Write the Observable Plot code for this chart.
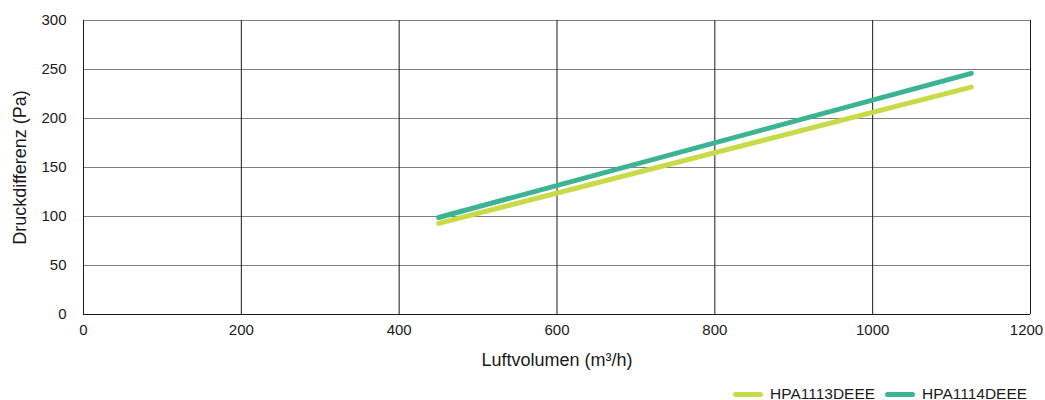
<!DOCTYPE html>
<html>
<head>
<meta charset="utf-8">
<script src="https://cdn.jsdelivr.net/npm/d3@7"></script>
<script src="https://cdn.jsdelivr.net/npm/@observablehq/plot@0.6"></script>
<style>
  body { margin: 0; background: #fff; font-family: "Liberation Sans", Arial, sans-serif; }
  #legend { position: relative; height: 25px; width: 1045px; font-size: 15.5px; color: #1a1a1a; }
  .item { position: absolute; top: 10px; display: flex; align-items: center; }
  .sw { display: inline-block; width: 30px; height: 5px; border-radius: 3px; margin-right: 7px; }
</style>
</head>
<body>
<div id="chart"></div>
<div id="legend"></div>
<script>
const seriesNames = ["HPA1113DEEE", "HPA1114DEEE"];
const seriesColors = ["#c8da48", "#3cb493"];
const airflow = [450, 1125];
const pressure1113 = [93, 232];
const pressure1114 = [99, 246];
const xTicks = [0, 200, 400, 600, 800, 1000, 1200];
const yTicks = [0, 50, 100, 150, 200, 250, 300];

const data = [];
airflow.forEach((x, i) => data.push({series: seriesNames[0], x, y: pressure1113[i]}));
airflow.forEach((x, i) => data.push({series: seriesNames[1], x, y: pressure1114[i]}));

const lastX = xTicks[xTicks.length - 1];

const chart = Plot.plot({
  width: 1045,
  height: 375,
  marginLeft: 83,
  marginRight: 15,
  marginTop: 20,
  marginBottom: 61,
  style: {fontFamily: "Liberation Sans, Arial, sans-serif", fontSize: "15px", color: "#1a1a1a", background: "#fff"},
  x: {domain: [0, 1200]},
  y: {domain: [0, 300]},
  color: {domain: seriesNames, range: seriesColors},
  marks: [
    Plot.ruleY(yTicks.filter(d => d !== 0), {stroke: "#7f7f7f", strokeWidth: 1}),
    Plot.ruleX(xTicks, {stroke: "#1a1a1a", strokeWidth: 1}),
    Plot.ruleY([0], {stroke: "#1a1a1a", strokeWidth: 1}),
    Plot.line(data, {x: "x", y: "y", z: "series", stroke: "series", strokeWidth: 5, strokeLinecap: "round"}),
    Plot.axisX(xTicks.filter(d => d !== lastX), {tickSize: 0, tickPadding: 10, fontSize: 15, label: null, tickFormat: d => String(d)}),
    Plot.axisX([lastX], {tickSize: 0, tickPadding: 10, fontSize: 15, label: null, tickFormat: d => String(d), dx: -4}),
    Plot.axisY(yTicks, {tickSize: 0, tickPadding: 17, fontSize: 15, label: null, tickFormat: d => String(d)}),
    Plot.text(["Luftvolumen (m³/h)"], {frameAnchor: "bottom", dy: 51, fontSize: 18, fill: "#1a1a1a", textAnchor: "middle"}),
    Plot.text(["Druckdifferenz (Pa)"], {frameAnchor: "left", dx: -63, rotate: -90, fontSize: 18, fill: "#1a1a1a", textAnchor: "middle"})
  ]
});
document.getElementById("chart").appendChild(chart);

const legend = document.getElementById("legend");
const lefts = [733, 885];
seriesNames.forEach((name, i) => {
  const item = document.createElement("div");
  item.className = "item";
  item.style.left = lefts[i] + "px";
  item.innerHTML = `<span class="sw" style="background:${seriesColors[i]}"></span><span>${name}</span>`;
  legend.appendChild(item);
});
</script>
</body>
</html>
